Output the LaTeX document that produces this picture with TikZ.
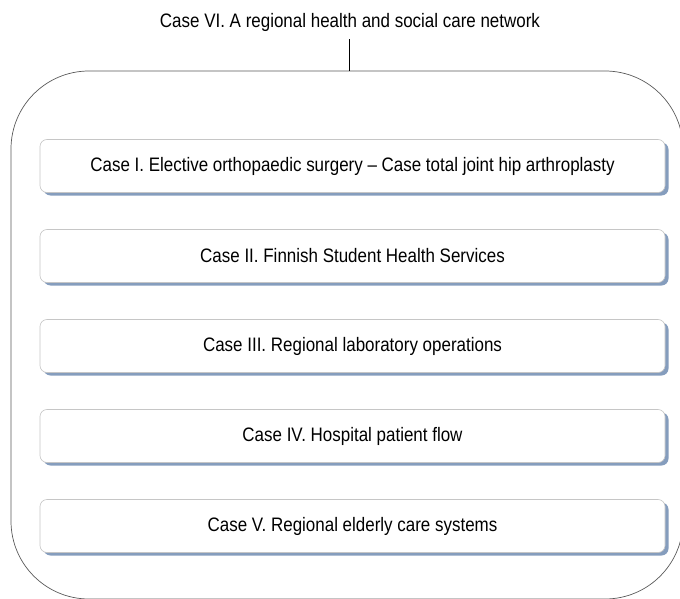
\documentclass[tikz,border=0pt]{standalone}
\usepackage{fontspec}
\setmainfont{Liberation Sans}[FakeStretch=0.87]
\usetikzlibrary{positioning, shadows}
\definecolor{shadowblue}{RGB}{112,140,178}

\begin{document}
\begin{tikzpicture}[x=1pt, y=-1pt,
  label text/.style={font=\fontsize{19.5}{23}\selectfont},
  casebox/.style={label text, draw=gray!45, line width=0.6pt, fill=white,
    rounded corners=7pt, minimum width=625pt, minimum height=53pt,
    drop shadow={shadow xshift=3.5pt, shadow yshift=-3pt, fill=shadowblue, opacity=0.85}}]
  \useasboundingbox (0,0) rectangle (680,599);
  \node at (350,22) [label text, inner sep=8pt] (title) {Case VI. A regional health and social care network};
  \node at (347,335) [draw=gray!70!black, line width=0.7pt, rounded corners=78pt,
    minimum width=672pt, minimum height=528pt] (network) {};
  \draw [line width=0.9pt] (title.south -| 349,0) -- (network.north -| 349,0);
  \node at (352.5,166) [casebox] (case1) {Case I. Elective orthopaedic surgery -- Case total joint hip arthroplasty};
  \node at (352.5,256) [casebox] (case2) {Case II. Finnish Student Health Services};
  \node at (352.5,346) [casebox] (case3) {Case III. Regional laboratory operations};
  \node at (352.5,436) [casebox] (case4) {Case IV. Hospital patient flow};
  \node at (352.5,526) [casebox] (case5) {Case V. Regional elderly care systems};
\end{tikzpicture}
\end{document}
